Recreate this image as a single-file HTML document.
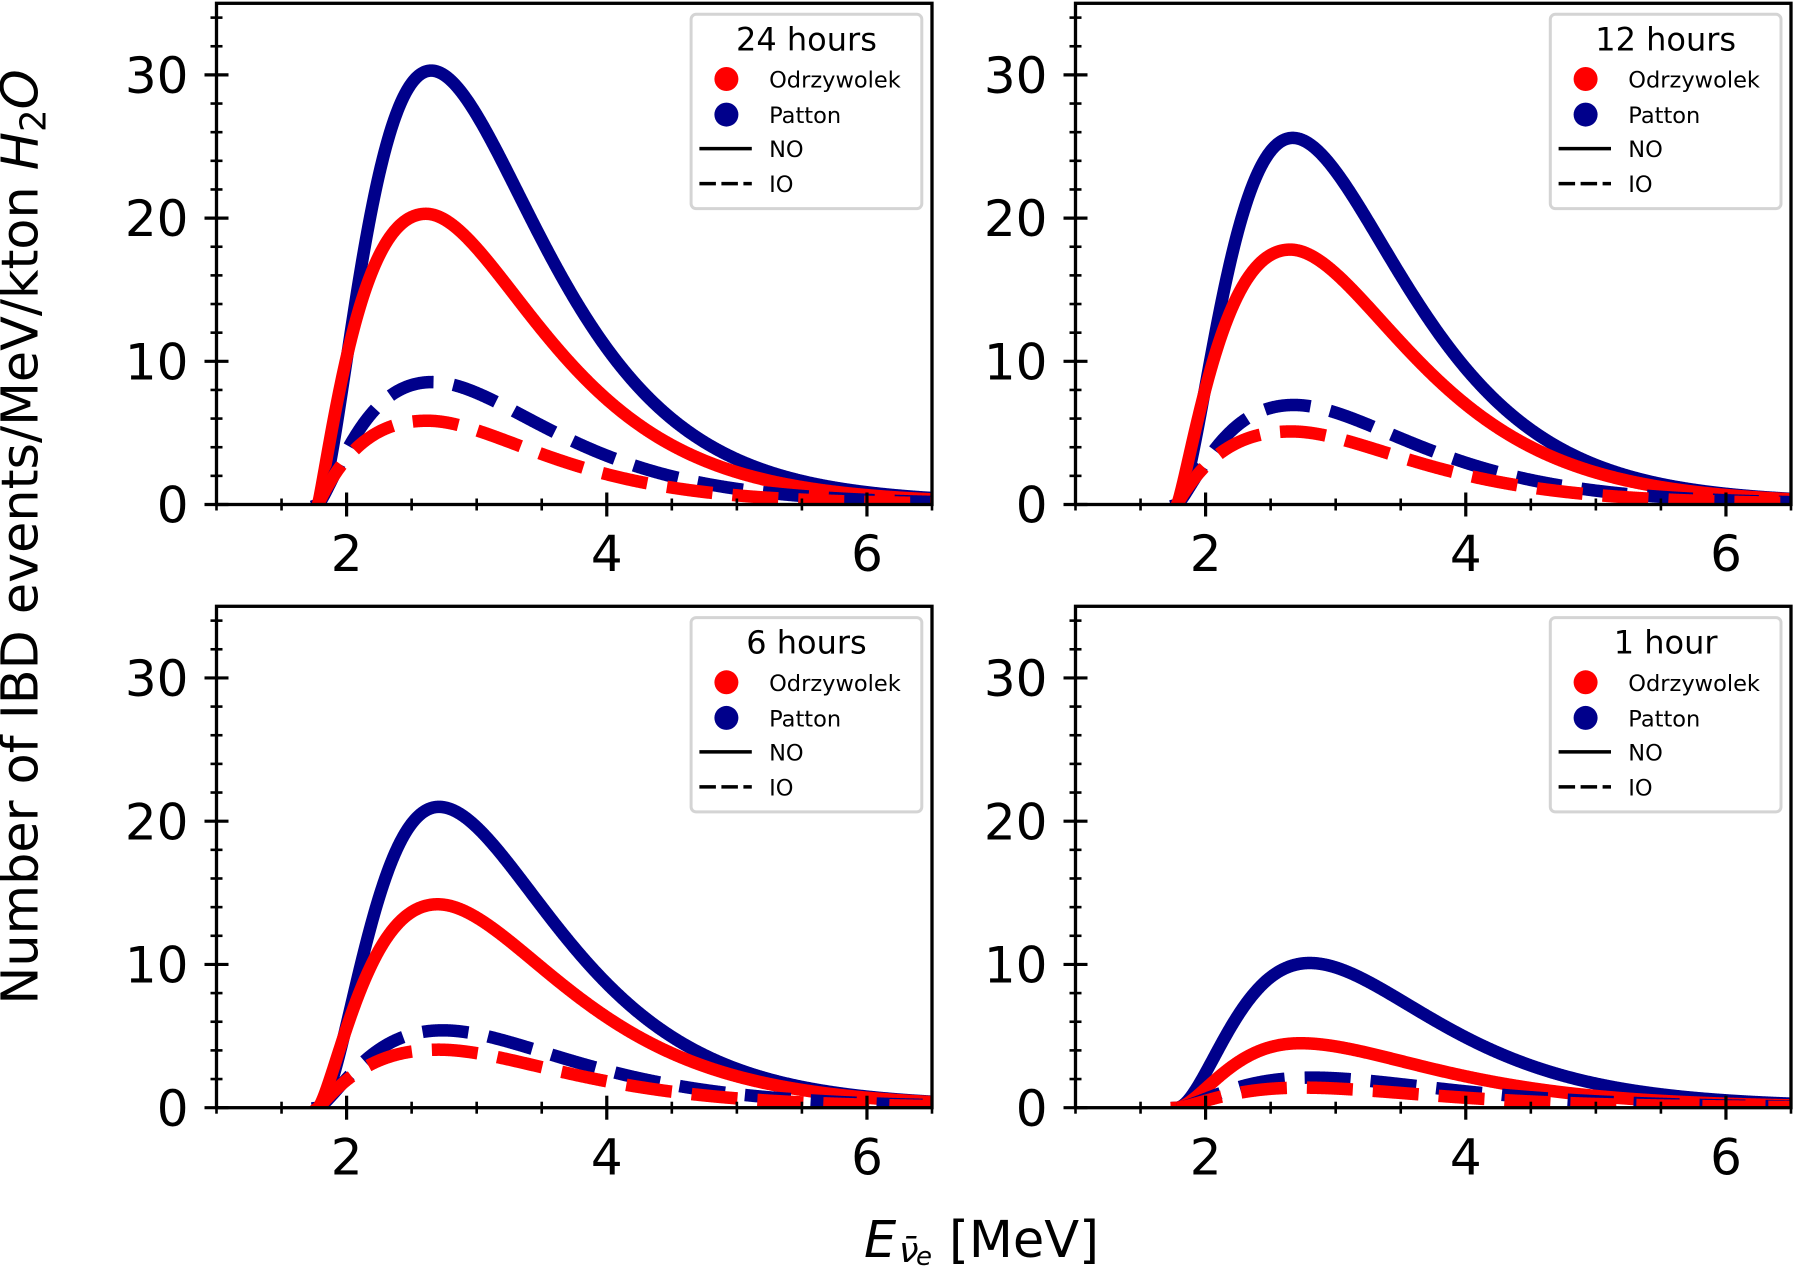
<!DOCTYPE html>
<html><head><meta charset="utf-8">
<style>
html,body{margin:0;padding:0;background:#fff;}
svg{display:block;}
text{font-family:"DejaVu Sans","Liberation Sans",sans-serif;fill:#000;}
</style></head>
<body>
<svg id="fig" xmlns="http://www.w3.org/2000/svg" width="1796" height="1266" viewBox="0 0 1796 1266">
<rect x="0" y="0" width="1796" height="1266" fill="#fff"/>
<defs>
<clipPath id="c0"><rect x="216.5" y="3.3" width="715.5" height="501.2"/></clipPath>
<clipPath id="c1"><rect x="1075.5" y="3.3" width="715.5" height="501.2"/></clipPath>
<clipPath id="c2"><rect x="216.5" y="606.3" width="715.5" height="501.4"/></clipPath>
<clipPath id="c3"><rect x="1075.5" y="606.3" width="715.5" height="501.4"/></clipPath>
</defs>
<g id="curves"></g>
<g id="axes"></g>

<!-- y tick labels -->
<g font-size="50" text-anchor="end">
<text x="188.5" y="522.7">0</text><text x="188.5" y="379.5">10</text><text x="188.5" y="236.2">20</text><text x="188.5" y="93">30</text>
<text x="1047.5" y="522.7">0</text><text x="1047.5" y="379.5">10</text><text x="1047.5" y="236.2">20</text><text x="1047.5" y="93">30</text>
<text x="188.5" y="1125.9">0</text><text x="188.5" y="982.6">10</text><text x="188.5" y="839.4">20</text><text x="188.5" y="696.1">30</text>
<text x="1047.5" y="1125.9">0</text><text x="1047.5" y="982.6">10</text><text x="1047.5" y="839.4">20</text><text x="1047.5" y="696.1">30</text>
</g>
<!-- x tick labels -->
<g font-size="50" text-anchor="middle">
<text x="346.6" y="571.1">2</text><text x="606.8" y="571.1">4</text><text x="867" y="571.1">6</text>
<text x="1205.6" y="571.1">2</text><text x="1465.8" y="571.1">4</text><text x="1726" y="571.1">6</text>
<text x="346.6" y="1174.3">2</text><text x="606.8" y="1174.3">4</text><text x="867" y="1174.3">6</text>
<text x="1205.6" y="1174.3">2</text><text x="1465.8" y="1174.3">4</text><text x="1726" y="1174.3">6</text>
</g>

<!-- legends -->
<g id="leg0" transform="translate(691.1,14.3)">
<rect x="0" y="0" width="230.7" height="194.3" rx="5" ry="5" fill="#fff" fill-opacity="0.9" stroke="#d4d4d4" stroke-width="3"/>
<text x="115.35" y="36" font-size="32" text-anchor="middle">24 hours</text>
<circle cx="35.3" cy="64.7" r="12" fill="#ff0000"/>
<circle cx="35.3" cy="100.3" r="12" fill="#00008b"/>
<line x1="8.3" y1="134.3" x2="60.7" y2="134.3" stroke="#000" stroke-width="3.5"/>
<line x1="8.3" y1="169.3" x2="60.7" y2="169.3" stroke="#000" stroke-width="3.5" stroke-dasharray="16.5 5.5"/>
<text x="78" y="73.3" font-size="22.5">Odrzywolek</text>
<text x="78" y="108.7" font-size="22.5">Patton</text>
<text x="78" y="142.7" font-size="22.5">NO</text>
<text x="78" y="177.7" font-size="22.5">IO</text>
</g>
<g id="leg1" transform="translate(1550.3,14.3)">
<rect x="0" y="0" width="230.7" height="194.3" rx="5" ry="5" fill="#fff" fill-opacity="0.9" stroke="#d4d4d4" stroke-width="3"/>
<text x="115.35" y="36" font-size="32" text-anchor="middle">12 hours</text>
<circle cx="35.3" cy="64.7" r="12" fill="#ff0000"/>
<circle cx="35.3" cy="100.3" r="12" fill="#00008b"/>
<line x1="8.3" y1="134.3" x2="60.7" y2="134.3" stroke="#000" stroke-width="3.5"/>
<line x1="8.3" y1="169.3" x2="60.7" y2="169.3" stroke="#000" stroke-width="3.5" stroke-dasharray="16.5 5.5"/>
<text x="78" y="73.3" font-size="22.5">Odrzywolek</text>
<text x="78" y="108.7" font-size="22.5">Patton</text>
<text x="78" y="142.7" font-size="22.5">NO</text>
<text x="78" y="177.7" font-size="22.5">IO</text>
</g>
<g id="leg2" transform="translate(691.1,617.6)">
<rect x="0" y="0" width="230.7" height="194.3" rx="5" ry="5" fill="#fff" fill-opacity="0.9" stroke="#d4d4d4" stroke-width="3"/>
<text x="115.35" y="36" font-size="32" text-anchor="middle">6 hours</text>
<circle cx="35.3" cy="64.7" r="12" fill="#ff0000"/>
<circle cx="35.3" cy="100.3" r="12" fill="#00008b"/>
<line x1="8.3" y1="134.3" x2="60.7" y2="134.3" stroke="#000" stroke-width="3.5"/>
<line x1="8.3" y1="169.3" x2="60.7" y2="169.3" stroke="#000" stroke-width="3.5" stroke-dasharray="16.5 5.5"/>
<text x="78" y="73.3" font-size="22.5">Odrzywolek</text>
<text x="78" y="108.7" font-size="22.5">Patton</text>
<text x="78" y="142.7" font-size="22.5">NO</text>
<text x="78" y="177.7" font-size="22.5">IO</text>
</g>
<g id="leg3" transform="translate(1550.3,617.6)">
<rect x="0" y="0" width="230.7" height="194.3" rx="5" ry="5" fill="#fff" fill-opacity="0.9" stroke="#d4d4d4" stroke-width="3"/>
<text x="115.35" y="36" font-size="32" text-anchor="middle">1 hour</text>
<circle cx="35.3" cy="64.7" r="12" fill="#ff0000"/>
<circle cx="35.3" cy="100.3" r="12" fill="#00008b"/>
<line x1="8.3" y1="134.3" x2="60.7" y2="134.3" stroke="#000" stroke-width="3.5"/>
<line x1="8.3" y1="169.3" x2="60.7" y2="169.3" stroke="#000" stroke-width="3.5" stroke-dasharray="16.5 5.5"/>
<text x="78" y="73.3" font-size="22.5">Odrzywolek</text>
<text x="78" y="108.7" font-size="22.5">Patton</text>
<text x="78" y="142.7" font-size="22.5">NO</text>
<text x="78" y="177.7" font-size="22.5">IO</text>
</g>

<!-- axis labels -->
<text transform="translate(37.5,537) rotate(-90)" font-size="50.8" text-anchor="middle">Number of IBD events/MeV/kton <tspan font-style="italic">H</tspan><tspan font-size="35.5" dy="8">2</tspan><tspan font-style="italic" dy="-8">O</tspan></text>

<text x="864" y="1257" font-size="51" font-style="italic">E</text>
<text x="899" y="1262" font-size="35" font-style="italic">ν̄</text>
<text x="916" y="1265" font-size="26" font-style="italic">e</text>
<text x="949" y="1257" font-size="51">[MeV]</text>
</svg>

<script>
(function(){
var NS='http://www.w3.org/2000/svg';
var W=715.5;
var panels=[
 {L:216.5,T:3.3,B:504.5,clip:'c0',c:[[30.3,2.65,1.75,1.75],[20.3,2.61,1.15,1.55],[8.55,2.66,1.3,1.62],[5.85,2.62,1.0,1.6]]},
 {L:1075.5,T:3.3,B:504.5,clip:'c1',c:[[25.6,2.67,1.75,1.8],[17.8,2.65,1.25,1.6],[6.95,2.68,1.3,1.62],[5.1,2.66,1.0,1.6]]},
 {L:216.5,T:606.3,B:1107.7,clip:'c2',c:[[21.0,2.71,1.9,1.8],[14.2,2.70,1.4,1.6],[5.4,2.74,1.4,1.62],[4.05,2.71,1.1,1.6]]},
 {L:1075.5,T:606.3,B:1107.7,clip:'c3',c:[[10.1,2.80,1.9,1.9],[4.5,2.73,1.75,1.55],[2.1,2.82,1.6,1.7],[1.4,2.75,1.5,1.6]]}
];
var styles=[
 {col:'#00008b',dash:null},
 {col:'#ff0000',dash:null},
 {col:'#00008b',dash:'46 20'},
 {col:'#ff0000',dash:'46 20'}
];
var E0=1.78;
function f(E,A,p,aL,aR){
  if(E<=E0) return 0;
  var u=(E-E0)/(p-E0);
  var g=u*Math.exp(1-u);
  if(u<=1) return A*Math.pow(g,aL);
  return A*(0.92*Math.pow(g,aR)+0.08*Math.pow(g,aR*0.5));
}
var cg=document.getElementById('curves');
var ag=document.getElementById('axes');
panels.forEach(function(P){
  var H=P.B-P.T;
  function X(E){return P.L+(E-1)*W/5.5;}
  function Y(v){return P.B-v*H/35;}
  var g=document.createElementNS(NS,'g');
  g.setAttribute('clip-path','url(#'+P.clip+')');
  P.c.forEach(function(c,i){
    var d='M'+X(E0).toFixed(2)+' '+Y(0).toFixed(2);
    for(var E=E0+0.004;E<=6.6;E+=0.004){
      d+=' L'+X(E).toFixed(2)+' '+Y(f(E,c[0],c[1],c[2],c[3])).toFixed(2);
    }
    var p=document.createElementNS(NS,'path');
    p.setAttribute('d',d);
    p.setAttribute('fill','none');
    p.setAttribute('stroke',styles[i].col);
    p.setAttribute('stroke-width','12.5');
    p.setAttribute('stroke-linejoin','round');
    if(styles[i].dash){p.setAttribute('stroke-dasharray',styles[i].dash);p.setAttribute('stroke-linecap','butt');}
    else p.setAttribute('stroke-linecap','square');
    g.appendChild(p);
  });
  cg.appendChild(g);
  function line(x1,y1,x2,y2,w){
    var l=document.createElementNS(NS,'line');
    l.setAttribute('x1',x1);l.setAttribute('y1',y1);l.setAttribute('x2',x2);l.setAttribute('y2',y2);
    l.setAttribute('stroke','#000');l.setAttribute('stroke-width',w);
    ag.appendChild(l);
  }
  for(var v=0;v<=34;v+=2){
    var y=Y(v);
    if(v%10===0) line(P.L-12,y,P.L+12,y,3.2);
    else line(P.L-6,y,P.L+6,y,2.6);
  }
  for(var k=0;k<=11;k++){
    var E=1+k*0.5, x=X(E);
    if(E===2||E===4||E===6) line(x,P.B-12,x,P.B+12,3.2);
    else line(x,P.B-6,x,P.B+6,2.6);
  }
  var r=document.createElementNS(NS,'rect');
  r.setAttribute('x',P.L);r.setAttribute('y',P.T);r.setAttribute('width',W);r.setAttribute('height',H);
  r.setAttribute('fill','none');r.setAttribute('stroke','#000');r.setAttribute('stroke-width','3.3');
  ag.appendChild(r);
});
})();
</script>
</body></html>
